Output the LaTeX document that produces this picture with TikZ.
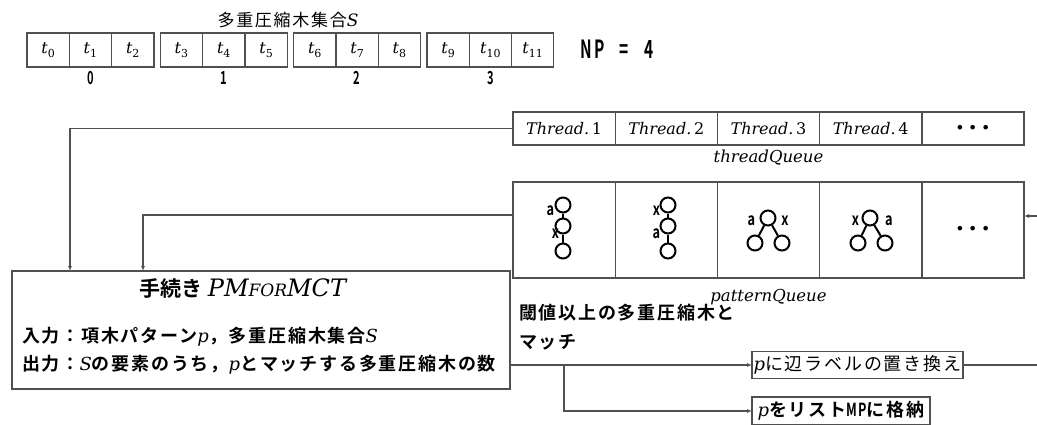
\documentclass[tikz,border=0pt]{standalone}
\usepackage{fontspec}
\usepackage{graphicx}
\usetikzlibrary{arrows.meta}
\newfontfamily\jp{Noto Sans CJK JP}[LetterSpace=10,BoldFont={Noto Sans CJK JP Bold}]
\newfontfamily\jpn{Noto Sans CJK JP Bold}
\newfontfamily\dv{DejaVu Sans}
\newfontfamily\mi{DejaVu Serif}
\newcommand\fsz[1]{\fontsize{#1}{#1}\selectfont}
\newcommand\iv[1]{{\mi\mdseries\itshape #1}}
\newcommand\tsub[1]{{\mi\itshape\fsz{16}t}\raisebox{-4pt}{\mi\fsz{11}#1}}
\definecolor{ln}{HTML}{505050}
\tikzset{
 base/.style={inner sep=0pt,outer sep=0pt},
 tcell/.style={base,draw=ln,line width=1.2pt,minimum width=42.3pt,minimum height=34pt},
 qcell/.style={base,draw=ln,line width=1.4pt,minimum width=102.2pt,minimum height=33pt,font=\mi\itshape\fsz{16}},
 pcell/.style={base,draw=ln,line width=1.4pt,minimum width=102.2pt,minimum height=96pt},
 tn/.style={circle,draw=black,line width=2pt,minimum size=15pt,inner sep=0pt},
 te/.style={line width=2pt},
 tl/.style={base,font=\jpn\fsz{17}},
 conn/.style={draw=ln,line width=1.3pt},
 arr/.style={conn,-{Latex[length=5pt,width=4pt]}},
 obox/.style={base,draw=ln,line width=1.4pt,minimum height=27pt},
 dots/.style={base,font=\dv\bfseries\fsz{13}},
}
\begin{document}
\begin{tikzpicture}[x=1pt,y=-1pt]
\useasboundingbox (0,0) rectangle (1037,424);
% top array
\node[base,font=\jp\fsz{17}] (ttl) at (288,20) {多重圧縮木集合\iv{S}};
\foreach \i in {0,...,11}{
  \pgfmathtruncatemacro\g{int(\i/3)}
  \pgfmathtruncatemacro\k{mod(\i,3)}
  \node[tcell] (c\i) at ({27+\g*133.3+\k*42.3+21.15},50) {\tsub{\i}};
}
\foreach \g in {0,...,3}{
  \node[base,font=\jpn\fsz{18}] (g\g) at ({27+\g*133.3+63.5},78) {\scalebox{0.62}[1]{\g}};
}
\node[base,font=\jpn\fsz{25}] (np) at (617,49) {\scalebox{0.62}[1]{N\hspace{0.15em}P\hspace{1em}=\hspace{1em}4}};
% thread queue
\node[qcell] (th1) at (564.1,128.5) {Thread.\,{\upshape 1}};
\node[qcell] (th2) at (666.3,128.5) {Thread.\,{\upshape 2}};
\node[qcell] (th3) at (768.5,128.5) {Thread.\,{\upshape 3}};
\node[qcell] (th4) at (870.7,128.5) {Thread.\,{\upshape 4}};
\node[qcell] (th5) at (972.9,128.5) {};
\node[dots] (thd) at (972.9,128.5) {• • •};
\node[base,font=\mi\itshape\fsz{16.5}] (tql) at (768.5,158) {threadQueue};
% pattern queue
\node[pcell] (pq1) at (564.1,230) {};
\node[pcell] (pq2) at (666.3,230) {};
\node[pcell] (pq3) at (768.5,230) {};
\node[pcell] (pq4) at (870.7,230) {};
\node[pcell] (pq5) at (972.9,230) {};
\node[dots] (pqd) at (972.9,230) {• • •};
\node[base,font=\mi\itshape\fsz{16.5}] (pql) at (768.5,297) {patternQueue};
% tree 1
\node[tn] (a1) at (563,205) {};
\node[tn] (a2) at (563,226) {};
\node[tn] (a3) at (563,251) {};
\draw[te] (a1) -- (a2); \draw[te] (a2) -- (a3);
\node[tl] (a1l) at (550.5,211) {\scalebox{0.75}[1]{a}};
\node[tl] (a2l) at (555.5,234) {\scalebox{0.75}[1]{x}};
% tree 2
\node[tn] (b1) at (668,205) {};
\node[tn] (b2) at (668,226) {};
\node[tn] (b3) at (668,251) {};
\draw[te] (b1) -- (b2); \draw[te] (b2) -- (b3);
\node[tl] (b1l) at (656.5,211) {\scalebox{0.75}[1]{x}};
\node[tl] (b2l) at (656.5,234) {\scalebox{0.75}[1]{a}};
% tree 3
\node[tn] (d1) at (768,218) {};
\node[tn] (d2) at (755,243) {};
\node[tn] (d3) at (782,243) {};
\draw[te] (d1) -- (d2); \draw[te] (d1) -- (d3);
\node[tl] (d1l) at (751.5,220.5) {\scalebox{0.75}[1]{a}};
\node[tl] (d2l) at (785,221) {\scalebox{0.75}[1]{x}};
% tree 4
\node[tn] (e1) at (870,218) {};
\node[tn] (e2) at (858,243) {};
\node[tn] (e3) at (885,243) {};
\draw[te] (e1) -- (e2); \draw[te] (e1) -- (e3);
\node[tl] (e1l) at (855.5,221) {\scalebox{0.75}[1]{x}};
\node[tl] (e2l) at (889,220.5) {\scalebox{0.75}[1]{a}};
% PM box
\node[base,draw=ln,line width=1.8pt,minimum width=498pt,minimum height=118pt] (pm) at (261,330) {};
\node[base] (pmt) at (243,289) {{\jpn\fsz{21}手続き}\hspace{5pt}{\mi\itshape\fsz{24}PM{\fsz{17}FOR}MCT}};
\node[base,anchor=west,font=\jp\bfseries\fsz{18}] (pin) at (22,337) {入力：項木パターン\iv{p}，多重圧縮木集合\iv{S}};
\node[base,anchor=west,font=\jp\bfseries\fsz{18}] (pout) at (22,365) {出力：\iv{S}の要素のうち，\iv{p}とマッチする多重圧縮木の数};
% condition label
\node[base,anchor=west,align=left,font=\jp\bfseries\fontsize{18}{29}\selectfont] (cond) at (519,327) {閾値以上の多重圧縮木と\\マッチ};
% output boxes
\node[obox,minimum width=211pt,font=\jp\fsz{18}] (r1) at (857.5,365) {\iv{p}に辺ラベルの置き換え};
\node[obox,minimum width=178pt,minimum height=28pt,font=\jp\bfseries\fsz{18}] (r2) at (841,411) {\iv{p}をリスト\scalebox{0.7}[1]{MP}に格納};
% connectors
\coordinate (xa) at (70,0);
\coordinate (xb) at (143,0);
\draw[arr] (th1.west) -| (pm.north -| xa);
\draw[arr] ([yshift=15pt]pq1.west) -| (pm.north -| xb);
\coordinate (rin) at (1040,216);
\draw[arr] (rin) -- (rin -| pq5.east);
\draw[arr] (r1.west -| pm.east) -- (r1.west);
\coordinate (br) at (564,365);
\draw[arr] (br) |- (r2.west);
\coordinate (rout) at (1040,365);
\draw[conn] (r1.east) -- (rout);
\end{tikzpicture}
\end{document}
